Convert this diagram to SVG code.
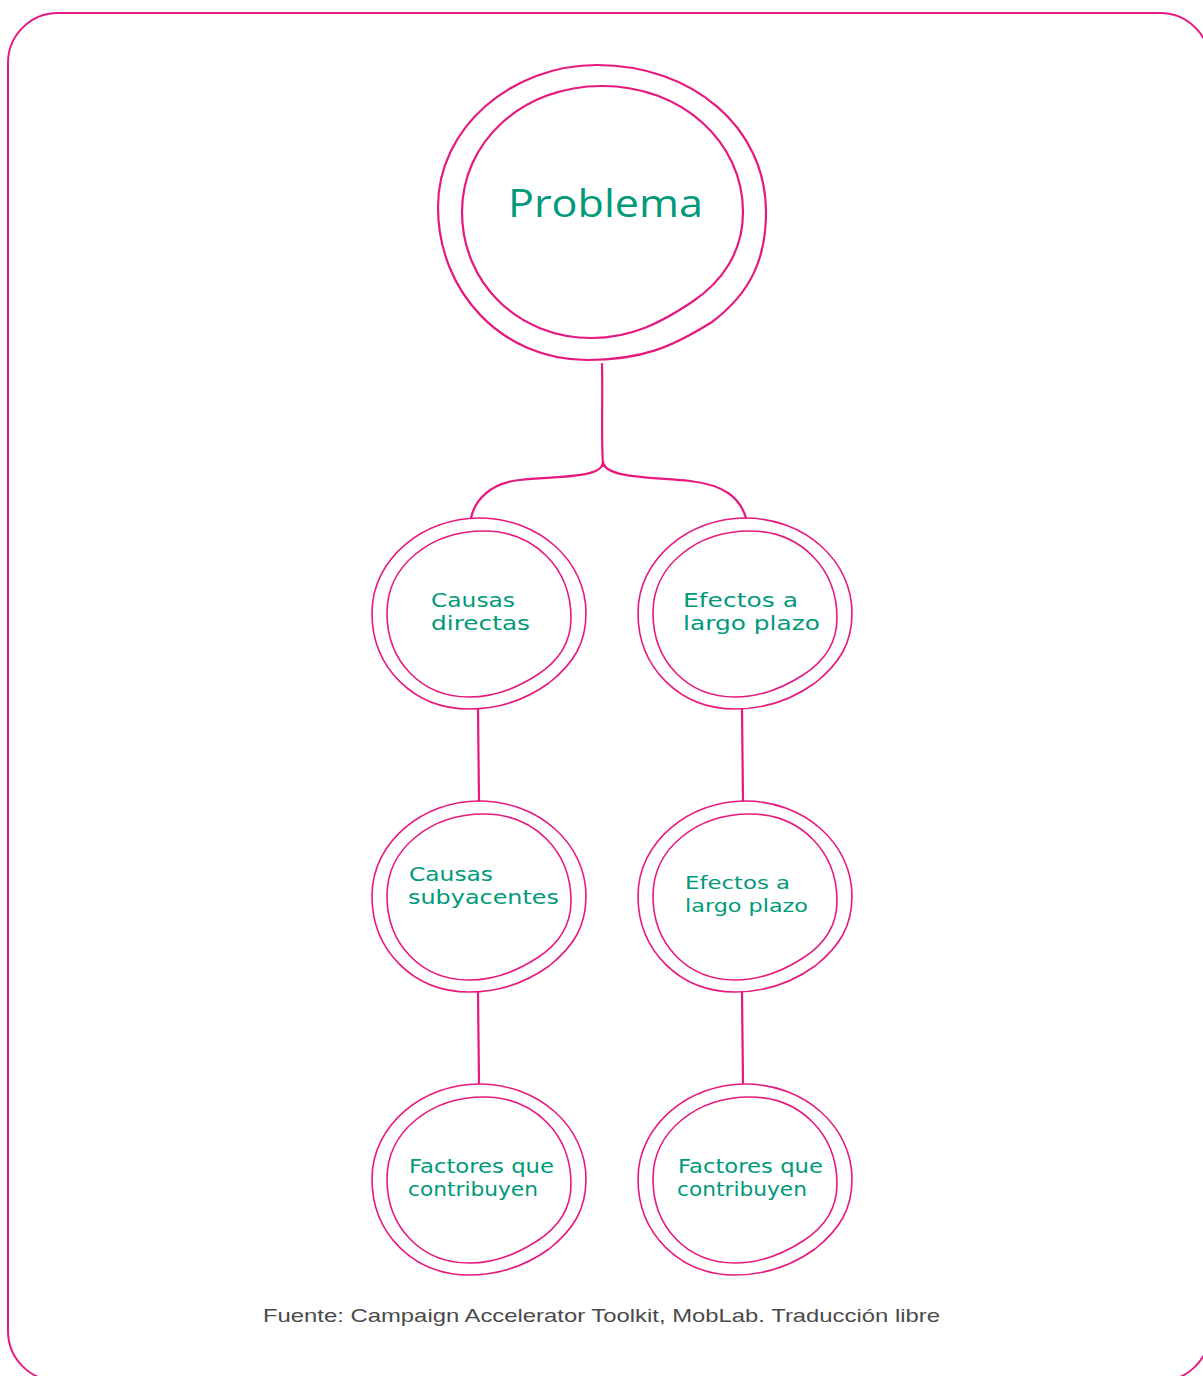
<svg xmlns="http://www.w3.org/2000/svg" xmlns:xlink="http://www.w3.org/1999/xlink" width="1203" height="1376" viewBox="0 0 1203 1376">
<style>
.frame{fill:none;stroke:#E5197E;stroke-width:2}
.ring{fill:none;stroke:#E5197E;stroke-width:1.6}
.ringb{fill:none;stroke:#E5197E;stroke-width:2.2}
.con{fill:none;stroke:#E5197E;stroke-width:2.2;stroke-linecap:round;stroke-linejoin:round}
.lbl{font-family:"DejaVu Sans","Open Sans",sans-serif;fill:#00997A;font-size:19.5px}
.big{font-family:"Open Sans","DejaVu Sans",sans-serif;fill:#00997A;font-size:38px}
.src{font-family:"Liberation Sans",Arial,sans-serif;fill:#4a4a4a;font-size:19px}
</style>
<defs>
<path id="so" d="M -107,0 C -107,-55 -55,-95 0,-95 C 60,-95 107,-52 107,0 C 107,30 95,50 70,70 C 45,88 20,96 -10,96 C -65,96 -107,55 -107,0 Z"/>
<path id="si" d="M -92,0 C -92,-48 -48,-82 5,-82 C 55,-82 92,-45 92,5 C 92,30 80,48 58,62 C 38,75 15,84 -10,84 C -58,84 -92,48 -92,0 Z"/>
</defs>
<rect class="frame" x="8" y="13" width="1202" height="1368" rx="50" ry="50"/>
<g id="connectors">
<path class="con" d="M 602,364 C 603,400 601,430 603,466"/>
<path class="con" d="M 603,462 C 603,478 560,476 520,480 C 490,483 475,500 471,518"/>
<path class="con" d="M 603,462 C 605,478 650,477 690,481 C 725,485 740,498 746,518"/>
<path class="con" d="M 478,709 L 479,801"/>
<path class="con" d="M 742,709 L 743,801"/>
<path class="con" d="M 478,992 L 479,1083"/>
<path class="con" d="M 742,992 L 743,1083"/>
</g>
<g id="problema">
<path class="ringb" d="M 438,207 C 438,127 512,65 597,65 C 692,65 766,127 766,212 C 766,257 752,292 712,322 C 672,347 642,360 587,360 C 502,360 438,292 438,207 Z"/>
<path class="ringb" d="M 462,212 C 462,142 522,86 602,86 C 682,86 743,142 743,212 C 743,252 722,282 692,302 C 662,322 632,338 592,338 C 517,338 462,282 462,212 Z"/>
<text class="big" x="508" y="217" textLength="195" lengthAdjust="spacingAndGlyphs">Problema</text>
</g>
<g id="causas-directas" transform="translate(479,613)">
<use href="#so" class="ring"/>
<use href="#si" class="ring"/>
<text class="lbl"><tspan x="-48" y="-6" textLength="84" lengthAdjust="spacingAndGlyphs">Causas</tspan><tspan x="-48" y="17" textLength="99" lengthAdjust="spacingAndGlyphs">directas</tspan></text>
</g>
<g id="efectos-1" transform="translate(745,613)">
<use href="#so" class="ring"/>
<use href="#si" class="ring"/>
<text class="lbl"><tspan x="-62" y="-6" textLength="115" lengthAdjust="spacingAndGlyphs">Efectos a</tspan><tspan x="-62" y="17" textLength="137" lengthAdjust="spacingAndGlyphs">largo plazo</tspan></text>
</g>
<g id="causas-subyacentes" transform="translate(479,896)">
<use href="#so" class="ring"/>
<use href="#si" class="ring"/>
<text class="lbl"><tspan x="-70" y="-15" textLength="84" lengthAdjust="spacingAndGlyphs">Causas</tspan><tspan x="-71" y="8" textLength="151" lengthAdjust="spacingAndGlyphs">subyacentes</tspan></text>
</g>
<g id="efectos-2" transform="translate(745,896)">
<use href="#so" class="ring"/>
<use href="#si" class="ring"/>
<text class="lbl" style="font-size:18px"><tspan x="-60" y="-7" textLength="105" lengthAdjust="spacingAndGlyphs">Efectos a</tspan><tspan x="-60" y="16" textLength="123" lengthAdjust="spacingAndGlyphs">largo plazo</tspan></text>
</g>
<g id="factores-1" transform="translate(479,1179)">
<use href="#so" class="ring"/>
<use href="#si" class="ring"/>
<text class="lbl"><tspan x="-70" y="-6" textLength="145" lengthAdjust="spacingAndGlyphs">Factores que</tspan><tspan x="-71" y="17" textLength="130" lengthAdjust="spacingAndGlyphs">contribuyen</tspan></text>
</g>
<g id="factores-2" transform="translate(745,1179)">
<use href="#so" class="ring"/>
<use href="#si" class="ring"/>
<text class="lbl"><tspan x="-67" y="-6" textLength="145" lengthAdjust="spacingAndGlyphs">Factores que</tspan><tspan x="-68" y="17" textLength="130" lengthAdjust="spacingAndGlyphs">contribuyen</tspan></text>
</g>
<text class="src" x="263" y="1322" textLength="677" lengthAdjust="spacingAndGlyphs">Fuente: Campaign Accelerator Toolkit, MobLab. Traducción libre</text>
</svg>
